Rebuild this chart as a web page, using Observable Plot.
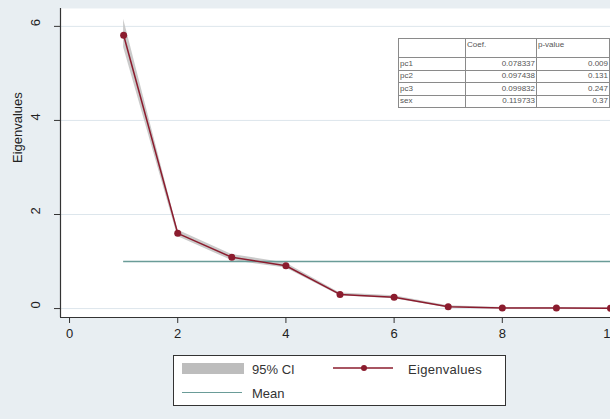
<!DOCTYPE html>
<html>
<head>
<meta charset="utf-8">
<script src="https://cdn.jsdelivr.net/npm/d3@7"></script>
<script src="https://cdn.jsdelivr.net/npm/@observablehq/plot@0.6"></script>
<style>
  html, body { margin: 0; padding: 0; background: #e8eef2; }
  #wrap { position: relative; width: 610px; height: 419px; overflow: hidden; background: #e8eef2; font-family: "Liberation Sans", Arial, sans-serif; }
  #tbl { position: absolute; left: 398px; top: 38px; border-collapse: collapse; background: #fff; font-size: 8px; color: #555; }
  #tbl td { border: 1px solid #8a8a8a; padding: 0 1px; height: 11.5px; line-height: 10px; }
  #tbl tr.h td { height: 17px; vertical-align: top; padding-top: 1px; }
  #legend { position: absolute; left: 173px; top: 355px; width: 333px; height: 51px; box-sizing: border-box; border: 1px solid #333; background: #fff; font-size: 13px; color: #333; }
  #legend .it { position: absolute; }
</style>
</head>
<body>
<div id="wrap"></div>
<script>
// ---- data ----
const components = [1, 2, 3, 4, 5, 6, 7, 8, 9, 10];
const eigenvalues = [5.81, 1.60, 1.09, 0.91, 0.30, 0.24, 0.04, 0.01, 0.01, 0.005];
const ciLower = [5.55, 1.53, 1.02, 0.86, 0.27, 0.21, 0.015, 0.0, 0.0, 0.0];
const ciUpper = [6.15, 1.67, 1.15, 0.97, 0.33, 0.27, 0.06, 0.025, 0.02, 0.012];
const meanEigen = 1.0;
const xTicks = [0, 2, 4, 6, 8, 10];
const yTicks = [0, 2, 4, 6];
const tableRows = ["pc1", "pc2", "pc3", "sex"];
const tableCoef = ["0.078337", "0.097438", "0.099832", "0.119733"];
const tablePval = ["0.009", "0.131", "0.247", "0.37"];
const tableHeader = ["", "Coef.", "p-value"];

const data = components.map((c, i) => ({ x: c, y: eigenvalues[i], lo: ciLower[i], hi: ciUpper[i] }));

const xMin = -0.167, xMax = 10.0;
const yMin = -0.19, yMax = 6.38;
const red = "#8b1c2e";
const teal = "#6a9c98";

const chart = Plot.plot({
  width: 610,
  height: 419,
  marginLeft: 60,
  marginRight: 0,
  marginTop: 8,
  marginBottom: 102,
  style: { background: "transparent", fontFamily: "Liberation Sans, Arial, sans-serif", color: "#222" },
  x: { domain: [xMin, xMax] },
  y: { domain: [yMin, yMax] },
  marks: [
    Plot.frame({ fill: "#ffffff" }),
    Plot.gridY(yTicks, { stroke: "#dde6ec", strokeOpacity: 1 }),
    Plot.areaY(data, { x: "x", y1: "lo", y2: "hi", fill: "#c4c4c4", fillOpacity: 0.9 }),
    Plot.ruleY([meanEigen], { x1: 1, x2: 10, stroke: teal, strokeWidth: 1.5 }),
    Plot.line(data, { x: "x", y: "y", stroke: red, strokeWidth: 1.5 }),
    Plot.dot(data, { x: "x", y: "y", r: 3.5, fill: red, stroke: "none" }),
    Plot.ruleX([xMin], { stroke: "#333", strokeWidth: 1.2 }),
    Plot.ruleY([yMin], { stroke: "#333", strokeWidth: 1.2 }),
    Plot.axisX({ ticks: xTicks, tickSize: 6, tickPadding: 5, fontSize: 13, label: null, stroke: "#333" }),
    Plot.axisY({ ticks: yTicks, tickSize: 6, tickFormat: () => "", label: null, stroke: "#333" }),
    Plot.text(yTicks, { y: (d) => d, text: (d) => String(d), frameAnchor: "left", dx: -25, rotate: -90, fontSize: 13, fill: "#222" }),
    Plot.text(["Eigenvalues"], { frameAnchor: "left", dx: -43, rotate: -90, fontSize: 13, fill: "#222" })
  ]
});
const wrap = document.getElementById("wrap");
wrap.appendChild(chart);

// ---- table inset ----
const tbl = document.createElement("table");
tbl.id = "tbl";
const colW = [64, 68, 70];
const hr = document.createElement("tr");
hr.className = "h";
tableHeader.forEach((h, j) => {
  const td = document.createElement("td");
  td.textContent = h;
  td.style.width = colW[j] + "px";
  td.style.textAlign = "left";
  hr.appendChild(td);
});
tbl.appendChild(hr);
tableRows.forEach((r, i) => {
  const tr = document.createElement("tr");
  [r, tableCoef[i], tablePval[i]].forEach((v, j) => {
    const td = document.createElement("td");
    td.textContent = v;
    td.style.textAlign = j === 0 ? "left" : "right";
    tr.appendChild(td);
  });
  tbl.appendChild(tr);
});
wrap.appendChild(tbl);

// ---- legend ----
const lg = document.createElement("div");
lg.id = "legend";
lg.innerHTML = `
  <div class="it" style="left:8px;top:7px;width:62px;height:11px;background:#bdbdbd;"></div>
  <div class="it" style="left:78px;top:6px;">95% CI</div>
  <svg class="it" style="left:159px;top:7px;" width="60" height="10">
    <line x1="0" y1="5" x2="60" y2="5" stroke="${red}" stroke-width="1.4"/>
    <circle cx="31" cy="5" r="3" fill="${red}"/>
  </svg>
  <div class="it" style="left:234px;top:6px;letter-spacing:0.3px;">Eigenvalues</div>
  <div class="it" style="left:8px;top:36px;width:60px;height:0;border-top:1.5px solid ${teal};"></div>
  <div class="it" style="left:78px;top:30px;">Mean</div>
`;
wrap.appendChild(lg);
</script>
</body>
</html>
